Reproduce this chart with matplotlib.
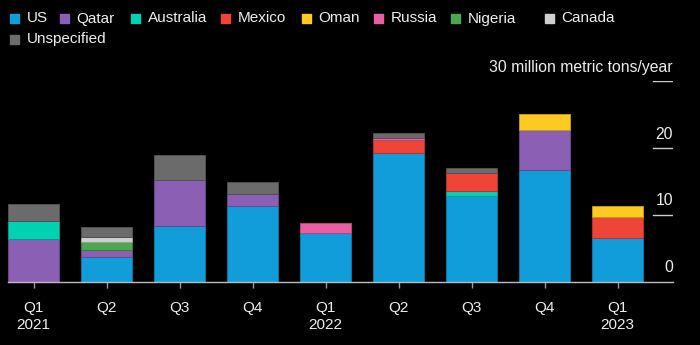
import numpy as np
import matplotlib.pyplot as plt
import matplotlib.colors as mcolors

# quarterly LNG import capacity by source (million metric tons/year)
quarters = ["Q1\n2021", "Q2", "Q3", "Q4", "Q1\n2022", "Q2", "Q3", "Q4", "Q1\n2023"]
us = [0, 3.8, 8.4, 11.3, 7.4, 19.3, 12.9, 16.7, 6.6]
qatar = [6.4, 1.05, 6.9, 1.9, 0, 0, 0, 6.0, 0]
australia = [2.7, 0, 0, 0, 0, 0, 0.65, 0, 0]
mexico = [0, 0, 0, 0, 0, 1.9, 2.8, 0, 3.2]
oman = [0, 0, 0, 0, 0, 0, 0, 2.5, 1.5]
russia = [0.1, 0, 0, 0, 1.5, 0.35, 0, 0, 0]
nigeria = [0, 1.1, 0, 0, 0, 0, 0, 0, 0]
canada = [0, 0.75, 0, 0, 0, 0, 0, 0, 0]
unspecified = [2.5, 1.5, 3.7, 1.7, 0, 0.8, 0.65, 0, 0]

series = [
    ("US", us, "#109dd9"),
    ("Qatar", qatar, "#8a5fb4"),
    ("Australia", australia, "#00d1b3"),
    ("Mexico", mexico, "#ee4538"),
    ("Oman", oman, "#fdca22"),
    ("Russia", russia, "#ea5fa3"),
    ("Nigeria", nigeria, "#4ba84f"),
    ("Canada", canada, "#cfcfcf"),
    ("Unspecified", unspecified, "#6b6b6b"),
]
y_ticks = [0, 10, 20, 30]

plt.rcParams['font.family'] = ['Liberation Sans', 'DejaVu Sans']
W, H = 700, 345
fig = plt.figure(figsize=(W / 100, H / 100), dpi=100, facecolor="black")

def px(x, y):
    return x / W, 1 - y / H

ax = fig.add_axes([8 / W, (H - 282) / H, (673 - 8) / W, (282 - 81.5) / H])
ax.set_facecolor("black")

x = np.arange(len(quarters))
bottom = np.zeros(len(quarters))
for name, vals, color in series:
    vals = np.array(vals, dtype=float)
    edge = np.array(mcolors.to_rgb(color)) * 0.75
    mask = vals > 0
    ax.bar(x[mask], vals[mask], width=0.7, bottom=bottom[mask], color=color,
           edgecolor=edge, linewidth=0.7)
    bottom += vals

ax.set_xlim(-0.35, 8.76)
ax.set_ylim(0, 30)

for s in ["top", "left", "right"]:
    ax.spines[s].set_visible(False)
ax.spines["bottom"].set_color("#bdbdbd")
ax.spines["bottom"].set_linewidth(1)

ax.set_yticks([])
ax.set_xticks(x)
ax.set_xticklabels(quarters, color="#eeeeee", fontsize=11, linespacing=1.25)
ax.tick_params(axis="x", colors="#9a9a9a", length=4.5, width=1, pad=9.5,
               labelcolor="#eeeeee")

# short right-hand gridlines with labels above them
for t in y_ticks:
    if t > 0:
        ax.axhline(t, xmin=0.97, xmax=1, color="#cccccc", lw=1)
    label = "30 million metric tons/year" if t == 30 else str(t)
    ax.annotate(label, (1, t), xycoords=("axes fraction", "data"),
                xytext=(0, 7), textcoords="offset points",
                ha="right", va="baseline", color="#eeeeee", fontsize=11.3)

# legend drawn by hand: two rows
legend_x = [10, 60, 131, 221, 302, 374, 451, 545, 10]
legend_y = [18.5, 18.5, 18.5, 18.5, 18.5, 18.5, 18.5, 18.5, 39]
for (name, vals, color), lx, ly in zip(series, legend_x, legend_y):
    sx, sy = px(lx, ly + 4.5)
    fig.patches.append(plt.Rectangle((sx, sy), 9 / W, 9 / H, color=color,
                                     transform=fig.transFigure, figure=fig))
    tx, ty = px(lx + 16.5, ly)
    fig.text(tx, ty, name, color="#eeeeee", fontsize=11, va="center", ha="left")

fig.savefig("out.png", dpi=100, facecolor="black")
